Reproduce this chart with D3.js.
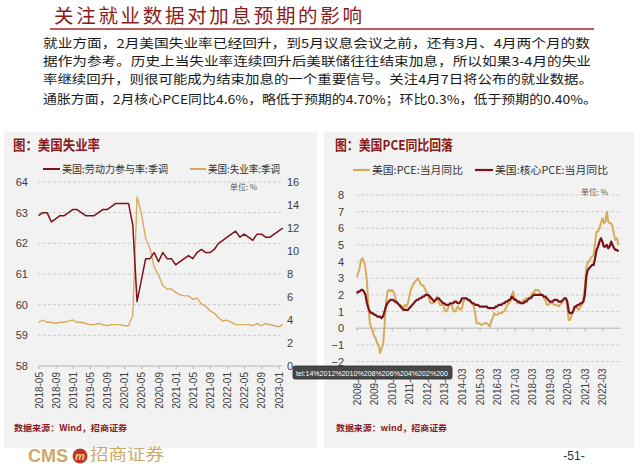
<!DOCTYPE html>
<html><head><meta charset="utf-8">
<script src="https://cdn.jsdelivr.net/npm/d3@7/dist/d3.min.js"></script>
<style>
html,body{margin:0;padding:0;background:#fff;}
svg{display:block;}
text{font-family:"Liberation Sans",Arial,sans-serif;}
.cjk{font-family:"Noto Sans CJK SC","Noto Sans",sans-serif;}
</style></head>
<body><svg id="c" width="640" height="466"></svg>
<script>
// ---------------- DATA ----------------
const pageTitle = "关注就业数据对加息预期的影响";
const bodyLines = [
  "就业方面，2月美国失业率已经回升，到5月议息会议之前，还有3月、4月两个月的数",
  "据作为参考。历史上当失业率连续回升后美联储往往结束加息，所以如果3-4月的失业",
  "率继续回升，则很可能成为结束加息的一个重要信号。关注4月7日将公布的就业数据。",
  "通胀方面，2月核心PCE同比4.6%，略低于预期的4.70%；环比0.3%，低于预期的0.40%。"
];

// Left chart: monthly from 2018-05 to 2023-02
const leftTitle = "图：美国失业率";
const leftSeriesNames = ["美国:劳动力参与率:季调", "美国:失业率:季调"];
const leftStart = "2018-05";
const leftTicks = ["2018-05","2018-09","2019-01","2019-05","2019-09","2020-01","2020-05","2020-09",
  "2021-01","2021-05","2021-09","2022-01","2022-05","2022-09","2023-01"];
const leftAxisTicks = [58,59,60,61,62,63,64];
const rightAxisTicks = [0,2,4,6,8,10,12,14,16];
const participation = [62.9,63.0,63.0,62.7,62.8,62.9,62.9,63.0,
  63.1,63.1,63.0,62.9,62.9,62.9,63.0,63.1,63.1,63.2,63.3,63.3,
  63.3,63.3,62.6,60.1,60.8,61.5,61.5,61.7,61.4,61.7,61.5,61.5,
  61.3,61.4,61.5,61.6,61.5,61.7,61.8,61.7,61.7,61.8,62.0,62.1,
  62.2,62.3,62.4,62.2,62.3,62.2,62.1,62.3,62.3,62.2,62.2,62.3,
  62.4,62.5];
const unemployment = [3.8,4.0,3.8,3.8,3.7,3.8,3.8,3.9,
  4.0,3.8,3.8,3.7,3.6,3.6,3.7,3.6,3.5,3.6,3.6,3.6,
  3.5,3.5,4.4,14.7,13.3,11.1,10.2,8.6,7.9,7.0,6.7,6.7,
  6.4,6.2,6.1,6.1,5.8,5.9,5.4,5.2,4.8,4.6,4.2,3.9,
  4.0,3.8,3.6,3.6,3.6,3.6,3.5,3.7,3.5,3.7,3.6,3.5,
  3.4,3.6];

// Right chart: monthly from 2008-03 to 2023-02
const rightTitle = "图：美国PCE同比回落";
const rightSeriesNames = ["美国:PCE:当月同比", "美国:核心PCE:当月同比"];
const rightStart = "2008-03";
const rightTicks = ["2008-03","2009-03","2010-03","2011-03","2012-03","2013-03","2014-03","2015-03",
  "2016-03","2017-03","2018-03","2019-03","2020-03","2021-03","2022-03"];
const pceAxisTicks = [-2,-1,0,1,2,3,4,5,6,7,8];
const pce = [3.1,3.3,3.6,4.1,4.2,4.0,3.6,2.8,1.3,0.3,
  0.0,-0.2,-0.5,-0.6,-0.9,-1.0,-1.5,-1.2,-1.0,0.1,1.5,2.2,
  2.3,2.2,2.3,2.2,2.0,1.5,1.5,1.4,1.4,1.3,1.2,1.4,
  1.3,1.5,1.9,2.3,2.5,2.7,2.8,2.9,3.0,2.8,2.6,2.6,
  2.5,2.3,2.1,1.9,1.6,1.5,1.5,1.6,1.7,1.9,1.6,1.4,
  1.4,1.5,1.1,1.0,1.1,1.4,1.5,1.4,1.1,1.0,1.1,1.3,
  1.2,1.1,1.2,1.6,1.8,1.8,1.7,1.6,1.6,1.5,1.3,0.9,
  0.3,0.3,0.3,0.2,0.2,0.3,0.3,0.3,0.2,0.1,0.4,0.6,
  0.9,0.8,0.8,0.9,0.9,0.9,1.0,1.0,1.2,1.4,1.5,1.6,
  2.0,2.2,1.8,1.7,1.5,1.5,1.5,1.6,1.7,1.7,1.8,1.8,
  1.8,1.9,2.1,2.1,2.3,2.3,2.3,2.2,2.0,2.0,1.8,1.7,
  1.4,1.4,1.5,1.5,1.5,1.4,1.4,1.4,1.3,1.4,1.5,1.6,
  1.8,1.8,1.3,0.5,0.5,0.8,1.0,1.2,1.3,1.2,1.1,1.3,
  1.4,1.7,2.5,3.6,4.0,4.0,4.2,4.3,4.4,5.1,5.8,5.8,
  6.0,6.3,6.6,6.3,6.4,7.0,6.4,6.3,6.3,6.1,5.6,5.3,
  5.4,5.0];
const corePce = [2.1,2.2,2.2,2.3,2.3,2.2,2.0,1.5,1.2,1.0,
  0.9,0.9,0.8,0.8,0.7,0.7,0.7,0.6,0.7,1.0,1.3,1.5,
  1.6,1.7,1.7,1.7,1.6,1.6,1.5,1.4,1.3,1.2,1.1,1.1,
  1.1,1.1,1.2,1.3,1.4,1.5,1.6,1.7,1.7,1.8,1.8,1.9,
  1.9,2.0,2.0,2.0,1.9,1.8,1.7,1.6,1.7,1.8,1.8,1.7,
  1.6,1.5,1.5,1.4,1.4,1.4,1.5,1.5,1.5,1.6,1.6,1.5,
  1.5,1.6,1.8,1.8,1.8,1.8,1.7,1.7,1.6,1.5,1.5,1.4,
  1.4,1.4,1.3,1.3,1.3,1.3,1.3,1.3,1.2,1.2,1.2,1.2,
  1.2,1.3,1.3,1.4,1.4,1.4,1.5,1.5,1.6,1.6,1.7,1.7,
  1.9,1.8,1.7,1.7,1.6,1.6,1.5,1.5,1.5,1.6,1.6,1.7,
  1.8,1.8,1.9,2.0,2.0,2.0,2.0,2.0,2.0,2.0,1.9,1.9,
  1.8,1.7,1.6,1.6,1.6,1.7,1.7,1.7,1.6,1.6,1.6,1.7,
  1.8,1.8,1.6,1.0,0.9,0.9,1.0,1.3,1.3,1.4,1.4,1.5,
  1.5,1.6,2.0,3.1,3.5,3.6,3.7,3.8,3.8,4.2,4.7,4.9,
  5.2,5.4,5.2,4.9,4.9,5.0,4.8,4.9,5.2,5.0,4.8,4.7,
  4.7,4.6];

const unitLabel = "单位: %";
const sourceLeft = "数据来源：Wind，招商证券";
const sourceRight = "数据来源：wind，招商证券";
const tooltipText = "tel:14%2012%2010%208%206%204%202%200";
const pageNumber = "-51-";

// ---------------- HELPERS ----------------
function monthIndex(label, start){
  const [y,m] = label.split("-").map(Number);
  const [y0,m0] = start.split("-").map(Number);
  return (y-y0)*12 + (m-m0);
}
const MAROON = "#7B1419", GOLD = "#D6AC5A", TITLERED = "#8B1A1A";

const svg = d3.select("#c");
svg.append("rect").attr("width",640).attr("height",466).attr("fill","#fff");

// ---------------- HEADER ----------------
svg.append("text").attr("class","cjk").attr("x",54).attr("y",23)
  .attr("font-size",19.5).attr("fill",TITLERED).attr("textLength",308).attr("lengthAdjust","spacing")
  .text(pageTitle);
svg.append("line").attr("x1",50).attr("x2",594).attr("y1",29).attr("y2",29)
  .attr("stroke","#A3262B").attr("stroke-width",1.5);
const bodyY = [48,66,84,104];
const bodyLen = [547,548,550,554];
bodyLines.forEach((t,i)=>{
  svg.append("text").attr("class","cjk").attr("x",43).attr("y",bodyY[i])
    .attr("font-size",12.4).attr("fill","#1a1a1a").attr("textLength",bodyLen[i])
    .attr("lengthAdjust","spacingAndGlyphs").text(t);
});

// ---------------- PANELS ----------------
svg.append("rect").attr("x",4).attr("y",132).attr("width",313).attr("height",316).attr("fill","#F2F2F2");
svg.append("rect").attr("x",324).attr("y",132).attr("width",310).attr("height",316).attr("fill","#F2F2F2");

function cjkText(x,y,size,fill,t,len,weight){
  const s = svg.append("text").attr("class","cjk").attr("x",x).attr("y",y)
    .attr("font-size",size).attr("fill",fill).text(t);
  if(len) s.attr("textLength",len).attr("lengthAdjust","spacingAndGlyphs");
  if(weight) s.attr("font-weight",weight);
  return s;
}

// ---------------- LEFT CHART ----------------
cjkText(13,150,13.5,TITLERED,leftTitle,87,"bold");
svg.append("line").attr("x1",43).attr("x2",60).attr("y1",169).attr("y2",169).attr("stroke",MAROON).attr("stroke-width",2);
cjkText(62,173,10.5,"#333",leftSeriesNames[0],106);
svg.append("line").attr("x1",190).attr("x2",206).attr("y1",169).attr("y2",169).attr("stroke",GOLD).attr("stroke-width",2);
cjkText(208,173,10.5,"#333",leftSeriesNames[1],72);
cjkText(230,190,7.5,"#555",unitLabel,27);

const xL = d3.scaleLinear().domain([0,56]).range([38.5,278.5]);
const yLL = d3.scaleLinear().domain([58,64]).range([366,182]);
const yLR = d3.scaleLinear().domain([0,16]).range([366,182]);

// grid
svg.append("g").selectAll("line").data(leftAxisTicks.filter(v=>v>58)).join("line")
  .attr("x1",38).attr("x2",282).attr("y1",d=>yLL(d)).attr("y2",d=>yLL(d))
  .attr("stroke","#c4c4c4").attr("stroke-width",0.8).attr("stroke-dasharray","3,2");

// left axis labels
const gLA = svg.append("g").attr("transform","translate(30,0)")
  .call(d3.axisLeft(yLL).tickValues(leftAxisTicks).tickFormat(d3.format("d")).tickSize(0).tickPadding(2));
gLA.select(".domain").remove();
gLA.selectAll("text").attr("font-size",11).attr("fill","#404040").attr("font-family","Liberation Sans, Arial, sans-serif");

const gRA = svg.append("g").attr("transform","translate(287,0)")
  .call(d3.axisRight(yLR).tickValues(rightAxisTicks).tickFormat(d3.format("d")).tickSize(0).tickPadding(0));
gRA.select(".domain").remove();
gRA.selectAll("text").attr("font-size",11).attr("fill","#404040").attr("font-family","Liberation Sans, Arial, sans-serif");

// x axis
const gLX = svg.append("g").attr("transform","translate(0,366)")
  .call(d3.axisBottom(xL).tickValues(leftTicks.map(t=>monthIndex(t,leftStart))).tickFormat((d,i)=>leftTicks[i]).tickSize(3).tickSizeOuter(0));
gLX.select(".domain").attr("d","M38,0H282").attr("stroke","#b5b5b5");
gLX.selectAll(".tick line").attr("stroke","#b5b5b5");
gLX.selectAll("text").attr("transform","rotate(-90)").attr("x",-6).attr("y",0).attr("dy","0.35em")
  .style("text-anchor","end").attr("font-size",10).attr("fill","#404040").attr("font-family","Liberation Sans, Arial, sans-serif");

const lineLL = d3.line().x((d,i)=>xL(i)).y(d=>yLL(d));
const lineLR = d3.line().x((d,i)=>xL(i)).y(d=>yLR(d));
svg.append("path").datum(unemployment).attr("d",lineLR).attr("fill","none").attr("stroke",GOLD).attr("stroke-width",1.4).attr("stroke-linejoin","round");
svg.append("path").datum(participation).attr("d",lineLL).attr("fill","none").attr("stroke",MAROON).attr("stroke-width",1.5).attr("stroke-linejoin","round");

cjkText(14,431,8.5,TITLERED,sourceLeft,113,"bold");

// ---------------- RIGHT CHART ----------------
cjkText(335,150,13.5,TITLERED,rightTitle,118,"bold");
svg.append("line").attr("x1",353).attr("x2",370).attr("y1",170).attr("y2",170).attr("stroke",GOLD).attr("stroke-width",2.2);
cjkText(372,174,10.5,"#333",rightSeriesNames[0],91);
svg.append("line").attr("x1",475).attr("x2",493).attr("y1",170).attr("y2",170).attr("stroke",MAROON).attr("stroke-width",2.2);
cjkText(495,174,10.5,"#333",rightSeriesNames[1],113);
cjkText(581,195,7.5,"#555",unitLabel,27);

const xR = d3.scaleLinear().domain([0,168]).range([356.7,602.4]);
const yR = d3.scaleLinear().domain([-2,8]).range([361.5,195]);

svg.append("g").selectAll("line").data(pceAxisTicks.filter(v=>v!==0)).join("line")
  .attr("x1",356).attr("x2",621).attr("y1",d=>yR(d)).attr("y2",d=>yR(d))
  .attr("stroke","#c4c4c4").attr("stroke-width",0.8).attr("stroke-dasharray","3,2");

const gPA = svg.append("g").attr("transform","translate(344,0)")
  .call(d3.axisLeft(yR).tickValues(pceAxisTicks).tickFormat(d3.format("d")).tickSize(0).tickPadding(0));
gPA.select(".domain").remove();
gPA.selectAll("text").attr("font-size",11).attr("fill","#404040").attr("font-family","Liberation Sans, Arial, sans-serif");

// zero line with ticks
const gZero = svg.append("g").attr("transform",`translate(0,${yR(0)})`)
  .call(d3.axisBottom(xR).tickValues(rightTicks.map(t=>monthIndex(t,rightStart))).tickFormat("").tickSize(3).tickSizeOuter(0));
gZero.select(".domain").attr("d","M356,0H621").attr("stroke","#b5b5b5");
gZero.selectAll(".tick line").attr("stroke","#b5b5b5");

// x labels below plot
const gRX = svg.append("g").attr("transform","translate(0,361.5)")
  .call(d3.axisBottom(xR).tickValues(rightTicks.map(t=>monthIndex(t,rightStart))).tickFormat((d,i)=>rightTicks[i]).tickSize(0));
gRX.select(".domain").remove();
gRX.selectAll("text").attr("transform","rotate(-90)").attr("x",-7).attr("y",0).attr("dy","0.35em")
  .style("text-anchor","end").attr("font-size",10).attr("fill","#404040").attr("font-family","Liberation Sans, Arial, sans-serif");

const lineR = d3.line().x((d,i)=>xR(i)).y(d=>yR(d));
svg.append("path").datum(pce).attr("d",lineR).attr("fill","none").attr("stroke",GOLD).attr("stroke-width",2).attr("stroke-linejoin","round");
svg.append("path").datum(corePce).attr("d",lineR).attr("fill","none").attr("stroke",MAROON).attr("stroke-width",2.2).attr("stroke-linejoin","round");

cjkText(336,431,8.5,TITLERED,sourceRight,111,"bold");

// ---------------- TOOLTIP ARTIFACT ----------------
svg.append("rect").attr("x",293).attr("y",366).attr("width",159).attr("height",13).attr("rx",2)
  .attr("fill","#474747").attr("stroke","#2a2a2a").attr("stroke-width",0.8);
svg.append("text").attr("x",296).attr("y",375.5).attr("font-size",7.5).attr("fill","#fff")
  .attr("textLength",152).attr("lengthAdjust","spacingAndGlyphs").text(tooltipText);

// ---------------- FOOTER ----------------
svg.append("text").attr("x",28).attr("y",462).attr("font-size",18).attr("font-weight","bold")
  .attr("font-family","Open Sans, Liberation Sans, sans-serif").attr("fill","#CDA866").text("CMS");
svg.append("circle").attr("cx",80).attr("cy",456).attr("r",7.5).attr("fill","#C0352B");
svg.append("text").attr("x",80).attr("y",460).attr("text-anchor","middle").attr("font-size",11)
  .attr("font-weight","bold").attr("font-style","italic").attr("fill","#F2D27A").text("m");
cjkText(90,460,15.5,"#CDA866","招商证券",74);
svg.append("text").attr("x",574).attr("y",460).attr("text-anchor","middle").attr("font-size",12)
  .attr("fill","#333").text(pageNumber);
</script>
</body></html>
